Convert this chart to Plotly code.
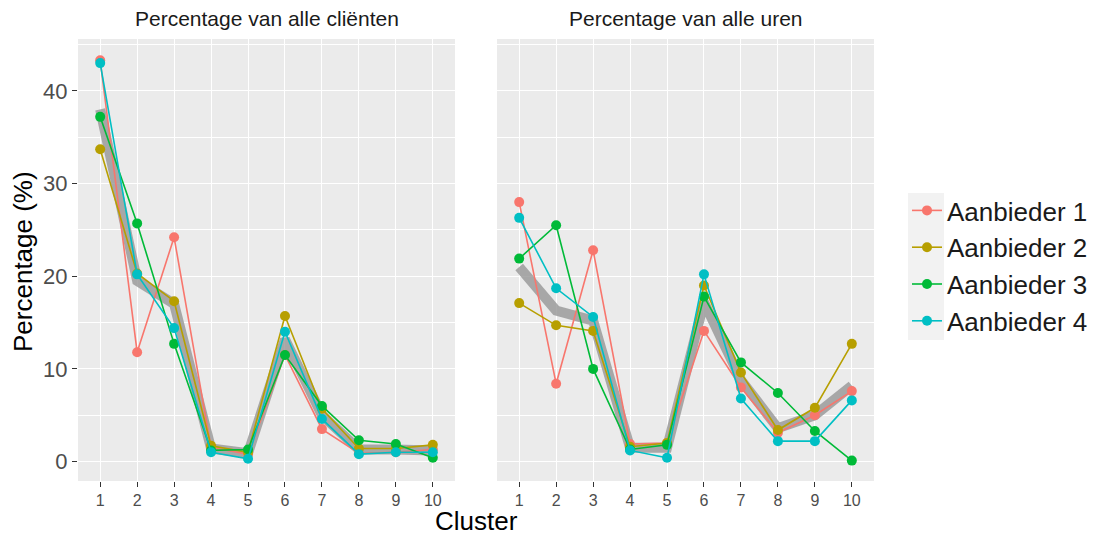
"""Cluster percentages per aanbieder, faceted ggplot-style (clients vs hours)."""
import plotly.graph_objects as go

FONT = "Liberation Sans, Arial, sans-serif"

clusters = list(range(1, 11))
providers = ["Aanbieder 1", "Aanbieder 2", "Aanbieder 3", "Aanbieder 4"]
colors = ["#F8766D", "#B79F00", "#00BA38", "#00BFC4"]
panel_titles = ["Percentage van alle cliënten", "Percentage van alle uren"]

# percentage of all clients per cluster
clients_a1 = [43.3, 11.8, 24.2, 1.5, 0.8, 11.5, 3.5, 0.9, 1.0, 1.3]
clients_a2 = [33.7, 20.3, 17.3, 1.7, 1.0, 15.7, 5.7, 1.4, 1.4, 1.8]
clients_a3 = [37.2, 25.7, 12.7, 1.2, 1.3, 11.5, 6.0, 2.3, 1.9, 0.4]
clients_a4 = [43.0, 20.2, 14.4, 1.0, 0.3, 14.0, 4.6, 0.8, 1.0, 1.0]
clients_avg = [38.0, 19.5, 17.0, 1.4, 0.9, 13.2, 5.0, 1.3, 1.3, 1.2]

# percentage of all hours per cluster
hours_a1 = [28.0, 8.4, 22.8, 1.9, 2.0, 14.1, 8.0, 3.1, 5.0, 7.6]
hours_a2 = [17.1, 14.7, 14.1, 1.6, 2.0, 19.0, 9.6, 3.4, 5.8, 12.7]
hours_a3 = [21.9, 25.5, 10.0, 1.3, 1.8, 17.8, 10.7, 7.4, 3.3, 0.1]
hours_a4 = [26.3, 18.7, 15.6, 1.2, 0.4, 20.2, 6.8, 2.2, 2.2, 6.6]
hours_avg = [21.0, 16.3, 15.2, 1.5, 1.5, 17.2, 8.8, 3.6, 5.0, 8.2]

panels = [
    ("x", "y", clients_avg, [clients_a1, clients_a2, clients_a3, clients_a4]),
    ("x2", "y2", hours_avg, [hours_a1, hours_a2, hours_a3, hours_a4]),
]

W, H = 1097, 538


def px(xp):
    return xp / W


def py(yp):
    return (H - yp) / H


# panel boxes in page pixels
px_panels = [(78, 455), (497, 874)]
px_top, px_bottom = 39, 481

fig = go.Figure()

for i, (xa, ya, avg, series) in enumerate(panels):
    fig.add_trace(go.Scatter(
        x=clusters, y=avg, xaxis=xa, yaxis=ya, mode="lines",
        line=dict(color="rgba(150,150,150,0.8)", width=10),
        showlegend=False, hoverinfo="skip",
    ))
    for name, color, vals in zip(providers, colors, series):
        fig.add_trace(go.Scatter(
            x=clusters, y=vals, xaxis=xa, yaxis=ya, mode="lines+markers",
            name=name, showlegend=(i == 0),
            line=dict(color=color, width=1.6),
            marker=dict(color=color, size=10),
        ))

grid = dict(
    showgrid=True, gridcolor="#FFFFFF", gridwidth=1.4, zeroline=False,
    ticks="outside", ticklen=5, tickcolor="#333333", tickwidth=1,
    showline=False,
)
layout = dict(
    width=W, height=H,
    paper_bgcolor="#FFFFFF", plot_bgcolor="#EBEBEB",
    margin=dict(l=0, r=0, t=0, b=0),
    font=dict(family=FONT, color="#1A1A1A"),
    legend=dict(
        x=px(907), y=py(266), yanchor="middle", xanchor="left",
        font=dict(family=FONT, size=26, color="#1A1A1A"),
        bgcolor="rgba(0,0,0,0)", itemwidth=30, tracegroupgap=0,
    ),
)
for i, (l, r) in enumerate(px_panels):
    sfx = "" if i == 0 else str(i + 1)
    layout["xaxis" + sfx] = dict(
        grid, domain=[px(l), px(r)], range=[0.4, 10.6],
        tickmode="array", tickvals=clusters, ticktext=[str(c) for c in clusters],
        tickfont=dict(family=FONT, size=16, color="#4D4D4D"),
        anchor="y" + sfx,
    )
    layout["yaxis" + sfx] = dict(
        grid, domain=[py(px_bottom), py(px_top)], range=[-2.1, 45.6],
        tickvals=[0, 10, 20, 30, 40],
        tickfont=dict(family=FONT, size=22, color="#4D4D4D"),
        anchor="x" + sfx, showticklabels=(i == 0),
        ticks="outside" if i == 0 else "",
        minor=dict(dtick=5, tick0=0, showgrid=True, gridcolor="#FFFFFF", gridwidth=0.7),
    )
    if i == 1:
        layout["yaxis2"]["matches"] = "y"

fig.update_layout(**layout)

for (l, r), title in zip(px_panels, panel_titles):
    fig.add_annotation(
        text=title, x=px((l + r) / 2), y=py(19), xref="paper", yref="paper",
        xanchor="center", yanchor="middle", showarrow=False,
        font=dict(family=FONT, size=21, color="#1A1A1A"),
    )

fig.add_annotation(
    text="Cluster", x=px((px_panels[0][0] + px_panels[1][1]) / 2), y=py(521),
    xref="paper", yref="paper", xanchor="center", yanchor="middle", showarrow=False,
    font=dict(family=FONT, size=26, color="#000000"),
)
fig.add_annotation(
    text="Percentage (%)", x=px(23), y=py(262),
    xref="paper", yref="paper", xanchor="center", yanchor="middle",
    showarrow=False, textangle=-90,
    font=dict(family=FONT, size=26, color="#000000"),
)

# legend key background (ggplot style)
fig.add_shape(
    type="rect", xref="paper", yref="paper", layer="below",
    x0=px(908), x1=px(944), y0=py(340), y1=py(193),
    fillcolor="#F2F2F2", line=dict(width=0),
)

# drop the default 8px body margin so the figure fills the window exactly
fig.write_html(
    "out.html",
    config={"displayModeBar": False},
    post_script="document.body.style.margin='0';",
)
